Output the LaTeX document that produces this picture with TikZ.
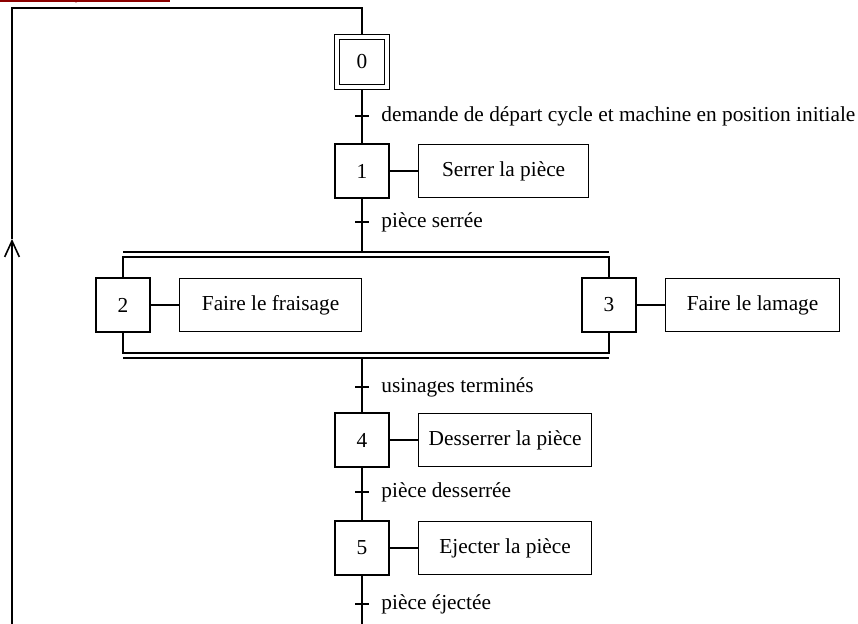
\documentclass[tikz,border=0pt]{standalone}
\usepackage{fontspec}
\setmainfont{Liberation Serif}
\usetikzlibrary{positioning,arrows.meta}

\tikzset{
	etape/.style={draw,minimum width=40.5pt,minimum height=40.5pt,inner sep=0pt},
	action/.style={draw,minimum height=39.75pt,inner sep=0pt},
	recep/.style={inner sep=0pt},
}

\begin{document}
\begin{tikzpicture}[x=0.75pt,y=-0.75pt,line width=1.2pt,node distance=21pt,font=\fontsize{16}{19}\selectfont]
	\useasboundingbox (0,0) rectangle (858,624);
	\path 
		(362,62) node[etape,minimum width=37.5pt,minimum height=37.5pt,double,double distance=2.5pt,outer sep=2.4pt] (E0) {0}
		(362,171) node[etape] (E1) {1}
		(123,305) node[etape] (E2) {2}
		(609,305) node[etape] (E3) {3}
		(362,440) node[etape] (E4) {4}
		(362,548) node[etape] (E5) {5}
		;
	\node[action,minimum width=127.5pt,right=of E1] (A1) {Serrer la pièce};
	\node[action,minimum width=136.5pt,right=of E2] (A2) {Faire le fraisage};
	\node[action,minimum width=130.5pt,right=of E3] (A3) {Faire le lamage};
	\node[action,minimum width=129.75pt,right=of E4] (A4) {Desserrer la pièce};
	\node[action,minimum width=129.75pt,right=of E5] (A5) {Ejecter la pièce};
	
	\path 
		(362,116) coordinate (T0) node[recep,right=14pt]{demande de départ cycle et machine en position initiale}
		(362,222) coordinate (T1) node[recep,right=14pt]{pièce serrée}
		(362,387) coordinate (T2) node[recep,right=14pt]{usinages terminés}
		(362,492) coordinate (T3) node[recep,right=14pt]{pièce desserrée}
		(362,604) coordinate (T4) node[recep,right=14pt]{pièce éjectée}
		(362,252) coordinate (DivH)
		(362,257) coordinate (DivB)
		(362,353) coordinate (ConvH)
		(362,358) coordinate (ConvB)
		(362,624) coordinate (Fin)
		(12,624) coordinate (Retour)
		(12,239) coordinate (Fleche)
		(362,8) coordinate (Haut)
		;
	
	\draw 
		(E0) -- (E1)
		(E1) -- (DivH)
		(E2 |- DivH) -- (E3 |- DivH)
		(E2.north) |- (DivB) -| (E3.north)
		(E2.south) |- (ConvH) -| (E3.south)
		(E2 |- ConvB) -- (E3 |- ConvB)
		(ConvB) -- (E4)
		(E4) -- (E5)
		(E5) -- (Fin)
		(E1) -- (A1)
		(E2) -- (A2)
		(E3) -- (A3)
		(E4) -- (A4)
		(E5) -- (A5)
	;
	\foreach \i in {0,...,4}
		\draw (T\i) +(-7,0) -- +(7,0);
	% retour a l'etape initiale
	\draw[-{Straight Barb[length=12pt,width=11pt]}] (Retour) -- (Fleche);
	\draw (Fleche) -- (Retour |- Haut) -- (Haut) -- (E0);
	
	\draw[red!55!black,line width=1.2pt] (0,1) -- (170,1);
	\fill[red!55!black] (76,0) circle (2.5);
\end{tikzpicture}
\end{document}
